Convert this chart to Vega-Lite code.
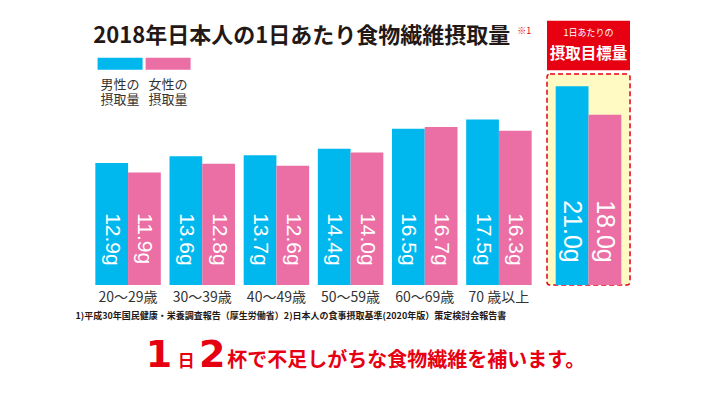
{
  "$schema": "https://vega.github.io/schema/vega-lite/v6.json",
  "background": "white",
  "padding": {"left": 75, "top": 20, "right": 5, "bottom": 5},
  "bounds": "flush",
  "spacing": 11,
  "config": {
    "view": {"stroke": null},
    "font": "Noto Sans CJK JP",
    "axisX": {
      "orient": "bottom", "domain": false, "ticks": false, "labelAngle": 0,
      "labelPadding": 5, "labelFontSize": 14, "labelColor": "#333333",
      "labelFont": "Noto Sans CJK JP",
      "titleFontSize": 9, "titleFontWeight": "bold", "titleColor": "#231815",
      "titleFont": "Noto Sans CJK JP",
      "titleAnchor": "start", "titleAlign": "left", "titleX": -16, "titleY": 30, "titleBaseline": "middle"
    }
  },
  "resolve": {"scale": {"xOffset": "independent"}},
  "hconcat": [
    {
      "width": 445,
      "height": 265,
      "data": {"values": [
        {"age": "20～29歳", "gender": "男性", "value": 12.9},
        {"age": "20～29歳", "gender": "女性", "value": 11.9},
        {"age": "30～39歳", "gender": "男性", "value": 13.6},
        {"age": "30～39歳", "gender": "女性", "value": 12.8},
        {"age": "40～49歳", "gender": "男性", "value": 13.7},
        {"age": "40～49歳", "gender": "女性", "value": 12.6},
        {"age": "50～59歳", "gender": "男性", "value": 14.4},
        {"age": "50～59歳", "gender": "女性", "value": 14.0},
        {"age": "60～69歳", "gender": "男性", "value": 16.5},
        {"age": "60～69歳", "gender": "女性", "value": 16.7},
        {"age": "70 歳以上", "gender": "男性", "value": 17.5},
        {"age": "70 歳以上", "gender": "女性", "value": 16.3}
      ]},
      "layer": [
        {
          "mark": {"type": "bar"},
          "encoding": {
            "x": {
              "field": "age", "type": "nominal",
              "scale": {"domain": ["20～29歳", "30～39歳", "40～49歳", "50～59歳", "60～69歳", "70 歳以上"], "paddingInner": 0.117, "paddingOuter": 0.0585},
              "axis": {"title": "1)平成30年国民健康・栄養調査報告（厚生労働省）2)日本人の食事摂取基準(2020年版）策定検討会報告書"}
            },
            "y": {"field": "value", "type": "quantitative", "scale": {"domain": [0, 27.92]}, "axis": null},
            "xOffset": {"field": "gender", "type": "nominal", "scale": {"domain": ["男性", "女性"]}},
            "color": {
              "field": "gender", "type": "nominal",
              "scale": {"domain": ["男性", "女性"], "range": ["#00b8ee", "#eb6ea5"]},
              "legend": {
                "orient": "none", "legendX": 6.6, "legendY": 21,
                "title": null, "direction": "horizontal", "columns": 2, "columnPadding": 3,
                "padding": 0,
                "symbolType": "M-1,-0.2667H1V0.2667H-1Z", "symbolSize": 2025,
                "symbolStrokeWidth": 0, "symbolOpacity": 1,
                "labelExpr": "datum.label == '男性' ? ['', '男性の', '摂取量'] : ['', '女性の', '摂取量']",
                "labelBaseline": "top", "labelAlign": "left", "labelOffset": -42,
                "labelFontSize": 13, "labelColor": "#333333", "labelFont": "Noto Sans CJK JP", "labelLimit": 0
              }
            }
          }
        },
        {
          "mark": {"type": "text", "angle": 90, "align": "left", "baseline": "middle", "color": "white",
                   "fontSize": 21, "font": "Liberation Sans",
                   "text": {"expr": "format(datum.value, '.1f') + 'g'"}},
          "encoding": {
            "x": {"field": "age", "type": "nominal", "axis": {"title": "1)平成30年国民健康・栄養調査報告（厚生労働省）2)日本人の食事摂取基準(2020年版）策定検討会報告書"}},
            "xOffset": {"field": "gender", "type": "nominal"},
            "y": {"datum": 7.59, "type": "quantitative", "axis": null}
          }
        },
        {
          "data": {"values": [{"label": "2018年日本人の1日あたり食物繊維摂取量"}]},
          "mark": {"type": "text", "align": "left", "baseline": "alphabetic", "fontSize": 22, "fontWeight": "bold", "color": "#231815", "dx": -2},
          "encoding": {
            "x": {"datum": "20～29歳", "type": "nominal", "bandPosition": 0, "axis": {"title": "1)平成30年国民健康・栄養調査報告（厚生労働省）2)日本人の食事摂取基準(2020年版）策定検討会報告書"}},
            "y": {"datum": 25.6, "type": "quantitative", "axis": null},
            "text": {"field": "label"}
          }
        },
        {
          "data": {"values": [{"label": "※1"}]},
          "mark": {"type": "text", "align": "left", "baseline": "alphabetic", "fontSize": 9, "color": "#e60012"},
          "encoding": {
            "x": {"datum": "70 歳以上", "type": "nominal", "bandPosition": 0.78, "axis": {"title": "1)平成30年国民健康・栄養調査報告（厚生労働省）2)日本人の食事摂取基準(2020年版）策定検討会報告書"}},
            "y": {"datum": 26.55, "type": "quantitative", "axis": null},
            "text": {"field": "label"}
          }
        },
        {
          "data": {"values": [{"label": "1"}]},
          "mark": {"type": "text", "align": "center", "baseline": "alphabetic", "fontSize": 38, "fontWeight": "bold", "font": "DejaVu Sans", "color": "#e60012"},
          "encoding": {
            "x": {"datum": "20～29歳", "type": "nominal", "bandPosition": 0.97, "axis": {"title": "1)平成30年国民健康・栄養調査報告（厚生労働省）2)日本人の食事摂取基準(2020年版）策定検討会報告書"}},
            "y": {"datum": -8.64, "type": "quantitative", "axis": null},
            "text": {"field": "label"}
          }
        },
        {
          "data": {"values": [{"label": "日"}]},
          "mark": {"type": "text", "align": "center", "baseline": "alphabetic", "fontSize": 17, "fontWeight": "bold", "color": "#e60012"},
          "encoding": {
            "x": {"datum": "30～39歳", "type": "nominal", "bandPosition": 0.256, "axis": {"title": "1)平成30年国民健康・栄養調査報告（厚生労働省）2)日本人の食事摂取基準(2020年版）策定検討会報告書"}},
            "y": {"datum": -8.64, "type": "quantitative", "axis": null},
            "text": {"field": "label"}
          }
        },
        {
          "data": {"values": [{"label": "2"}]},
          "mark": {"type": "text", "align": "center", "baseline": "alphabetic", "fontSize": 38, "fontWeight": "bold", "font": "DejaVu Sans", "color": "#e60012"},
          "encoding": {
            "x": {"datum": "30～39歳", "type": "nominal", "bandPosition": 0.653, "axis": {"title": "1)平成30年国民健康・栄養調査報告（厚生労働省）2)日本人の食事摂取基準(2020年版）策定検討会報告書"}},
            "y": {"datum": -8.64, "type": "quantitative", "axis": null},
            "text": {"field": "label"}
          }
        },
        {
          "data": {"values": [{"label": "杯で不足しがちな食物繊維を補います。"}]},
          "mark": {"type": "text", "align": "left", "baseline": "alphabetic", "fontSize": 20, "fontWeight": "bold", "color": "#e60012"},
          "encoding": {
            "x": {"datum": "30～39歳", "type": "nominal", "bandPosition": 0.88, "axis": {"title": "1)平成30年国民健康・栄養調査報告（厚生労働省）2)日本人の食事摂取基準(2020年版）策定検討会報告書"}},
            "y": {"datum": -8.64, "type": "quantitative", "axis": null},
            "text": {"field": "label"}
          }
        }
      ]
    },
    {
      "width": 83,
      "height": 265,
      "data": {"values": [
        {"gender": "男性", "value": 21.0},
        {"gender": "女性", "value": 18.0}
      ]},
      "layer": [
        {
          "data": {"values": [{"box": "目標"}]},
          "mark": {"type": "rect", "fill": "#fff9c4", "stroke": "#e60012", "strokeDash": [5, 3], "strokeWidth": 1.5, "cornerRadius": 3},
          "encoding": {
            "x": {"value": 0}, "x2": {"value": "width"},
            "y": {"datum": 0, "type": "quantitative", "scale": {"domain": [0, 27.92]}, "axis": null},
            "y2": {"datum": 22.3}
          }
        },
        {
          "data": {"values": [{"box": "見出し"}]},
          "mark": {"type": "rect", "fill": "#e60012"},
          "encoding": {
            "x": {"value": 0}, "x2": {"value": "width"},
            "y": {"datum": 22.7, "type": "quantitative", "axis": null},
            "y2": {"datum": 27.92}
          }
        },
        {
          "mark": {"type": "bar"},
          "encoding": {
            "x": {"field": "gender", "type": "nominal",
                  "scale": {"domain": ["男性", "女性"], "paddingInner": 0, "paddingOuter": 0.265}, "axis": null},
            "y": {"field": "value", "type": "quantitative", "axis": null},
            "color": {"field": "gender", "type": "nominal"}
          }
        },
        {
          "mark": {"type": "text", "angle": 90, "align": "left", "baseline": "middle", "color": "white",
                   "fontSize": 25, "font": "Liberation Sans",
                   "text": {"expr": "format(datum.value, '.1f') + 'g'"}},
          "encoding": {
            "x": {"field": "gender", "type": "nominal", "axis": null},
            "y": {"datum": 8.96, "type": "quantitative", "axis": null}
          }
        },
        {
          "data": {"values": [{"label": "1日あたりの"}]},
          "mark": {"type": "text", "align": "center", "baseline": "alphabetic", "fontSize": 9, "color": "white"},
          "encoding": {
            "y": {"datum": 26.34, "type": "quantitative", "axis": null},
            "text": {"field": "label"}
          }
        },
        {
          "data": {"values": [{"label": "摂取目標量"}]},
          "mark": {"type": "text", "align": "center", "baseline": "alphabetic", "fontSize": 15.5, "fontWeight": "bold", "color": "white"},
          "encoding": {
            "y": {"datum": 23.92, "type": "quantitative", "axis": null},
            "text": {"field": "label"}
          }
        }
      ]
    }
  ]
}
